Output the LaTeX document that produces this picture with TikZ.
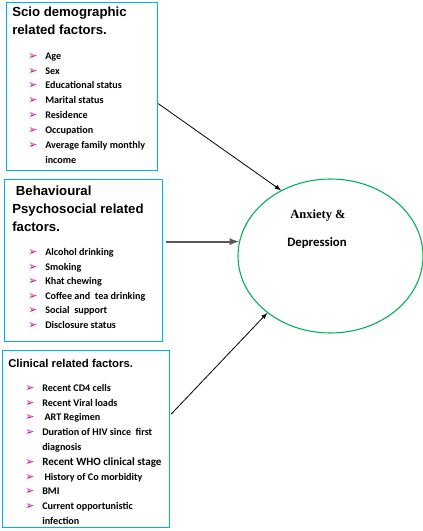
\documentclass[tikz,border=0pt]{standalone}
\usepackage{fontspec}
\setmainfont{Liberation Sans}
\newfontfamily\itemfont{Carlito}
\newfontfamily\timesfont{Liberation Serif}
\newfontfamily\dingfont{DejaVu Sans}
\usepackage{xcolor}
\usepackage{tikz}
\usetikzlibrary{calc}
\usetikzlibrary{shapes.geometric}
\definecolor{boxblue}{RGB}{0,176,240}
\definecolor{ovalgreen}{RGB}{0,176,80}
\definecolor{bulletpink}{RGB}{204,0,153}
\definecolor{arrowgrey}{RGB}{89,89,89}
\tikzset{
  factorbox/.style={draw=boxblue, line width=0.9pt, anchor=north west, inner sep=0pt},
  headline/.style={anchor=base west, inner sep=0pt, font=\bfseries\fontsize{9.9}{12}\selectfont},
  itemline/.style={anchor=base west, inner sep=0pt, font=\itemfont\bfseries\fontsize{7.6}{9}\selectfont},
  bul/.style={anchor=base west, inner sep=0pt, text=bulletpink, font=\dingfont\fontsize{8.2}{9}\selectfont},
}
\begin{document}
\begin{tikzpicture}[x=0.75pt,y=-0.75pt]
\useasboundingbox (0,0) rectangle (423,531);
\begin{scope}
    % the three boxes
    \node[factorbox, minimum width=113.25pt, minimum height=126pt] (demo) at (6,2) {};
    \node[factorbox, minimum width=118.5pt, minimum height=121.5pt] (behav) at (4,179) {};
    \node[factorbox, minimum width=125.25pt, minimum height=132.75pt] (clin) at (2,350) {};
    % outcome
    \node[draw=ovalgreen, line width=0.8pt, ellipse, minimum width=138.75pt, minimum height=115.5pt, inner sep=0pt] (anx) at (330.5,256) {};
    \node[anchor=base, inner sep=0pt, font=\timesfont\bfseries\fontsize{9.4}{11}\selectfont] (anxt) at (318,218) {Anxiety \&};
    \node[anchor=base, inner sep=0pt, font=\itemfont\bfseries\fontsize{9.6}{11}\selectfont] (dept) at (317,246) {Depression};
    % headings
    \node[headline] (h1a) at (12,17) {Scio demographic};
    \node[headline] (h1b) at (12,35) {related factors.};
    \node[headline] (h2a) at (12,195) {\ Behavioural};
    \node[headline] (h2b) at (12,213) {Psychosocial related};
    \node[headline] (h2c) at (12,231) {factors.};
    \node[headline, font=\bfseries\fontsize{8.5}{11}\selectfont] (h3) at (8,367) {Clinical related factors.};
    % items
    \foreach \y/\txt [count=\i] in {60/Age, 75/Sex, 89/Educational status, 104/Marital status,
        119/Residence, 133/Occupation, 148/Average family monthly}
      {\node[bul] (b1\i) at (28,\y) {➢};
       \node[itemline] (d\i) at (45,\y) {\txt};}
    \node[itemline] (d8) at (45,163) {income};
    \foreach \y/\txt [count=\i] in {255/Alcohol drinking, 270/Smoking, 284/Khat chewing,
        299/Coffee and\ \ tea drinking, 313/Social\ \ support, 328/Disclosure status}
      {\node[bul] (b2\i) at (28,\y) {➢};
       \node[itemline] (p\i) at (45,\y) {\txt};}
    \foreach \y/\txt [count=\i] in {391/Recent CD4 cells, 406/Recent Viral loads, 420/\ ART Regimen,
        435/Duration of HIV since\ \ first, 480/\ History of Co morbidity, 494/BMI, 509/Current opportunistic}
      {\node[bul] (b3\i) at (25,\y) {➢};
       \node[itemline] (c\i) at (42,\y) {\txt};}
    \node[itemline] (c8) at (42,450) {diagnosis};
    \node[bul] (b39) at (25,465) {➢};
    \node[itemline, font=\itemfont\bfseries\fontsize{8.3}{9}\selectfont] (c9) at (42,465) {Recent WHO clinical stage};
    \node[itemline] (c10) at (42,524) {infection};
    % arrows
    \coordinate (g) at ($(behav.east)+(3,-19)$);
    \draw[line width=0.6pt, -latex] ($(demo.east)+(0,17)$) -- (anx.127);
    \draw[arrowgrey, line width=1.4pt, -latex] (g) -- ($(anx.west |- g)+(1.5,0)$);
    \draw[line width=0.6pt, -latex] ($(clin.east)+(1,-25)$) -- (anx.222);
\end{scope}
\end{tikzpicture}
\end{document}
